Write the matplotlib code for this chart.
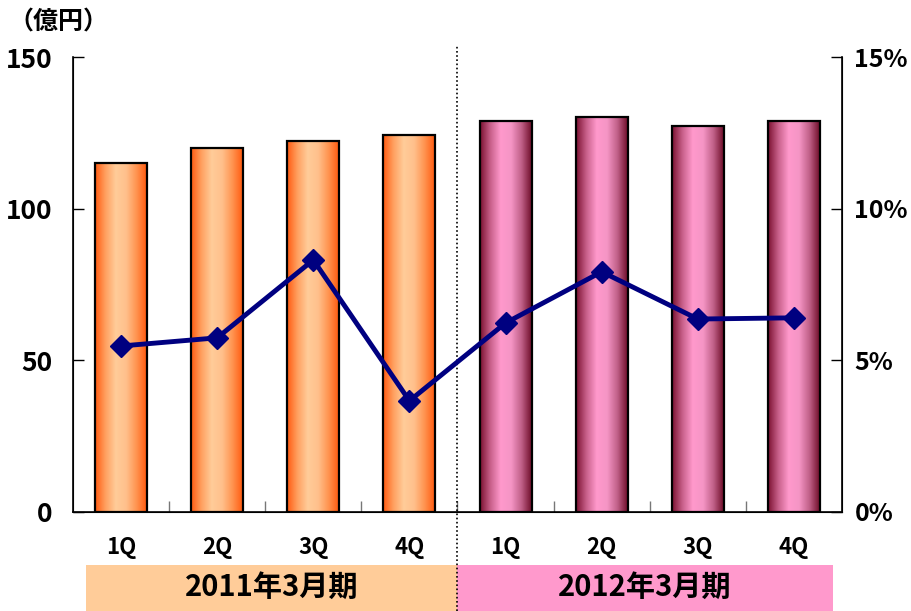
import numpy as np
import matplotlib
matplotlib.use('Agg')
import matplotlib.pyplot as plt
from matplotlib.colors import LinearSegmentedColormap
from matplotlib.patches import Rectangle
from matplotlib.transforms import blended_transform_factory

plt.rcParams['font.family'] = ['Noto Sans CJK JP', 'DejaVu Sans']
plt.rcParams['font.weight'] = 'bold'

quarters = ['1Q', '2Q', '3Q', '4Q', '1Q', '2Q', '3Q', '4Q']
periods = ['2011年3月期', '2012年3月期']
sales = [115.2, 120.1, 122.4, 124.4, 129.1, 130.4, 127.4, 129.0]   # 億円
margin = [5.47, 5.74, 8.31, 3.66, 6.23, 7.92, 6.36, 6.40]          # %

orange_cmap = LinearSegmentedColormap.from_list(
    'orange_bar', ['#ff5a10', '#ffa060', '#ffcc99', '#ffc08c', '#ff9450', '#ff5a10'])
pink_cmap = LinearSegmentedColormap.from_list(
    'pink_bar', ['#7a1030', '#c8608a', '#ff99cc', '#f595c5', '#c06088', '#6e0c28'])

fig = plt.figure(figsize=(9.12, 6.11), dpi=100)
ax = fig.add_axes([73 / 912, 1 - 511.7 / 611, 769 / 912, 454.4 / 611])
ax2 = ax.twinx()

x = np.arange(len(quarters))
bar_w = 0.54
grad = np.linspace(0, 1, 256).reshape(1, -1)
for i, (xi, h) in enumerate(zip(x, sales)):
    cmap = orange_cmap if i < 4 else pink_cmap
    patch = Rectangle((xi - bar_w / 2, 0), bar_w, h, facecolor='none',
                      edgecolor='black', linewidth=1.6, zorder=3)
    ax.add_patch(patch)
    img = ax.imshow(grad, cmap=cmap, aspect='auto', zorder=2,
                    extent=[xi - bar_w / 2, xi + bar_w / 2, 0, h])
    img.set_clip_path(patch)

ax.set_xlim(-0.5, 7.5)
ax.set_ylim(0, 150)
ax.set_yticks([0, 50, 100, 150])
ax.tick_params(axis='y', direction='in', length=8, width=1, labelsize=19, pad=15)
ax.set_xticks(np.arange(0.5, 7, 1))
ax.set_xticklabels([])
ax.tick_params(axis='x', direction='in', length=8, width=1, colors='#777777')
ax.spines['top'].set_visible(False)
ax2.spines['top'].set_visible(False)
for sp in ('left', 'bottom'):
    ax.spines[sp].set_linewidth(1.2)
ax2.spines['right'].set_linewidth(1.2)

ax2.plot(x, margin, color='#000080', linewidth=3.5, marker='D', markersize=11,
         markeredgecolor='#000080', zorder=5)
ax2.set_ylim(0, 15)
ax2.set_yticks([0, 5, 10, 15])
ax2.set_yticklabels([f'{v}%' for v in [0, 5, 10, 15]])
ax2.tick_params(axis='y', direction='in', length=8, width=1, labelsize=18, pad=9)
ax.set_zorder(1)
ax2.set_zorder(2)
ax2.patch.set_visible(False)

trans = blended_transform_factory(ax.transData, ax.transAxes)
for xi, q in zip(x, quarters):
    ax.text(xi, -0.078, q, transform=trans, ha='center', va='center',
            fontsize=16, fontweight='bold', clip_on=False)

band_colors = ['#ffcc99', '#ff99cc']
band_spans = [(-0.365, 3.5), (3.5, 7.406)]
for (x0, x1), c, label in zip(band_spans, band_colors, periods):
    ax.add_patch(Rectangle((x0, -0.2185), x1 - x0, 0.1015, transform=trans,
                           facecolor=c, edgecolor='none', clip_on=False, zorder=1))
    ax.text((x0 + x1) / 2, -0.166, label, transform=trans, ha='center', va='center',
            fontsize=21, fontweight='bold', clip_on=False, zorder=2)

ax.axvline(3.5, ymin=-0.2185, ymax=1.027, color='black', linestyle=(0, (1, 1.5)),
           linewidth=1.2, clip_on=False, zorder=4)

fig.text(8 / 912, 1 - 22 / 611, '（億円）', ha='left', va='center',
         fontsize=18, fontweight='bold')

fig.savefig('out.png', dpi=100)
